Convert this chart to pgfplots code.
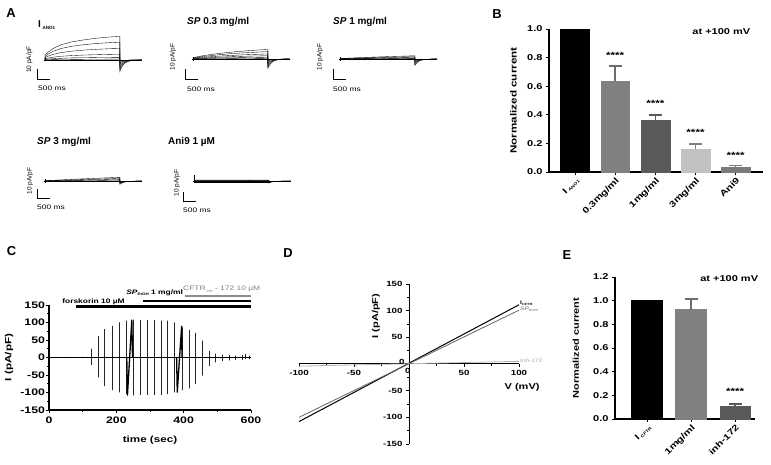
\documentclass[border=0pt]{standalone}
\usepackage{fontspec}
\setmainfont{Liberation Sans}
\newfontfamily\sw{Liberation Sans}[FakeStretch=1.3]
\usepackage{pgfplots}
\pgfplotsset{compat=1.18}
\definecolor{gA}{HTML}{808080}
\definecolor{gB}{HTML}{5A5A5A}
\definecolor{gC}{HTML}{C2C2C2}
\definecolor{gD}{HTML}{7A7A7A}
\newcommand{\fs}[1]{\fontsize{#1}{#1}\selectfont}
\pgfplotsset{
  /pgf/number format/assume math mode=true,
  trace/.style={hide axis, anchor=south west, x=0.026bp, y=1.15bp, xmin=-400, xmax=3800, ymin=-22, ymax=30, clip=false},
  tr/.style={black, line width=0.35bp},
  base/.style={black, line width=0.9bp},
  noarrow/.style={axis line style={-}, x axis line style={-}, y axis line style={-}},
  eb/.style={error bars/.cd, y dir=plus, y explicit, error bar style={draw=#1, line width=1.6bp}, error mark options={rotate=90, draw=#1, line width=1.6bp, mark size=6.5bp}},
}
\begin{document}
\begin{tikzpicture}[x=1bp,y=1bp]
\useasboundingbox (0,0) rectangle (771,465);

% ---------------- Panel letters
\node[font=\bfseries\fs{13}] at (11,452) {A};
\node[font=\bfseries\fs{13}] at (497,451) {B};
\node[font=\bfseries\fs{13}] at (11.5,214) {C};
\node[font=\bfseries\fs{13}] at (288,212) {D};
\node[font=\bfseries\fs{13}] at (567,210) {E};

% ---------------- Panel A traces
% T1 I_ANO1
\begin{axis}[trace, at={(34.6bp,379.7bp)}]
\addplot[base] coordinates {(-50,0)(3730,0)};
\addplot[tr] coordinates {(0,0)(0,4)(100,6.5)(300,9.8)(600,13.1)(1000,15.6)(1500,17.5)(2000,19.0)(2500,20.0)(2880,20.5)(2880,-10)(2930,-7.2)(2980,-5.1)(3080,-2.6)(3180,-1.4)(3330,-0.5)(3730,0)};
\addplot[tr] coordinates {(0,0)(0,3)(100,4.9)(300,7.4)(600,9.9)(1000,11.8)(1500,13.3)(2000,14.4)(2500,15.1)(2880,15.5)(2880,-8)(2930,-5.8)(2980,-4.1)(3080,-2.1)(3180,-1.1)(3330,-0.4)(3730,0)};
\addplot[tr] coordinates {(0,0)(0,2)(100,3.2)(300,4.8)(600,6.4)(1000,7.6)(1500,8.6)(2000,9.3)(2500,9.8)(2880,10)(2880,-6)(2930,-4.3)(2980,-3.1)(3080,-1.6)(3180,-0.8)(3330,-0.3)(3730,0)};
\addplot[tr] coordinates {(0,0)(0,1)(100,1.6)(300,2.4)(600,3.2)(1000,3.8)(1500,4.3)(2000,4.6)(2500,4.9)(2880,5)(2880,-4)(2930,-2.9)(2980,-2)(3080,-1)(3180,-0.5)(3330,-0.2)(3730,0)};
\addplot[tr] coordinates {(0,0)(0,0.5)(300,1.1)(1000,1.8)(2000,2.1)(2880,2.3)(2880,-2.5)(2930,-1.8)(2980,-1.3)(3080,-0.7)(3180,-0.3)(3330,-0.1)(3730,0)};
\addplot[tr] coordinates {(0,0.2)(1000,0.5)(2880,0.8)(2880,-1.2)(2980,-0.6)(3180,-0.2)(3730,0)};
\addplot[tr] coordinates {(0,-0.3)(2880,-0.3)(2880,-0.6)(3080,-0.2)(3730,0)};
\addplot[tr] coordinates {(0,-0.6)(2880,-0.6)(2880,-0.3)(3730,0)};
\addplot[tr] coordinates {(0,-1.2)(0,1.5)};
\end{axis}
% T2 SP 0.3
\begin{axis}[trace, at={(182.6bp,380.7bp)}]
\addplot[base] coordinates {(-50,0)(3730,0)};
\addplot[tr] coordinates {(0,0)(0,1)(100,1.6)(300,2.5)(600,3.6)(1000,4.8)(1500,6.0)(2000,7.0)(2500,7.8)(2880,8.3)(2880,-8)(2930,-5.8)(2980,-4.1)(3080,-2.1)(3180,-1.1)(3330,-0.4)(3730,0)};
\addplot[tr] coordinates {(0,0.8)(300,1.9)(1000,3.7)(1500,4.7)(2000,5.4)(2500,6.0)(2880,6.4)(2880,-6.5)(2930,-4.7)(2980,-3.3)(3080,-1.7)(3180,-0.9)(3330,-0.3)(3730,0)};
\addplot[tr] coordinates {(0,0.5)(300,1.3)(1000,2.5)(2000,3.7)(2880,4.4)(2880,-5)(2930,-3.6)(2980,-2.5)(3080,-1.3)(3180,-0.7)(3330,-0.2)(3730,0)};
\addplot[tr] coordinates {(0,0.3)(1000,1.6)(2000,2.4)(2880,2.8)(2880,-3.5)(2930,-2.5)(2980,-1.8)(3080,-0.9)(3180,-0.5)(3730,0)};
\addplot[tr] coordinates {(0,0.2)(1000,0.9)(2880,1.5)(2880,-2)(2980,-1)(3180,-0.3)(3730,0)};
\addplot[tr] coordinates {(0,0)(2880,0.6)(2880,-1)(3080,-0.3)(3730,0)};
\addplot[tr] coordinates {(0,-0.3)(2880,-0.3)(2880,-0.5)(3730,0)};
\addplot[tr] coordinates {(0,-1.5)(0,1.5)};
\end{axis}
% T3 SP 1
\begin{axis}[trace, at={(329.6bp,380.7bp)}]
\addplot[base] coordinates {(-50,0)(3730,0)};
\addplot[tr] coordinates {(0,0)(0,0.4)(1000,1.4)(2000,2.2)(2880,2.8)(2880,-5.5)(2930,-4)(2980,-2.8)(3080,-1.4)(3180,-0.8)(3330,-0.3)(3730,0)};
\addplot[tr] coordinates {(0,0.3)(1000,1.0)(2000,1.6)(2880,2.0)(2880,-4.2)(2930,-3)(2980,-2.1)(3080,-1.1)(3180,-0.6)(3730,0)};
\addplot[tr] coordinates {(0,0.2)(1000,0.7)(2880,1.3)(2880,-3)(2930,-2.2)(2980,-1.5)(3080,-0.8)(3180,-0.4)(3730,0)};
\addplot[tr] coordinates {(0,0.1)(2880,0.7)(2880,-2)(2980,-1)(3180,-0.3)(3730,0)};
\addplot[tr] coordinates {(0,0)(2880,0.3)(2880,-1.2)(3080,-0.4)(3730,0)};
\addplot[tr] coordinates {(0,-0.3)(2880,-0.2)(2880,-0.6)(3730,0)};
\addplot[tr] coordinates {(0,-1.5)(0,1.5)};
\end{axis}
% T4 SP 3
\begin{axis}[trace, at={(34.6bp,258.7bp)}]
\addplot[base] coordinates {(-50,0)(3730,0)};
\addplot[tr] coordinates {(0,0.3)(1000,1.4)(2000,2.4)(2880,3.2)(2880,-2.9)(2930,-2.1)(2980,-1.5)(3080,-0.8)(3180,-0.4)(3730,0)};
\addplot[tr] coordinates {(0,0.2)(1000,0.9)(2000,1.6)(2880,2.2)(2880,-2.2)(2980,-1.1)(3180,-0.3)(3730,0)};
\addplot[tr] coordinates {(0,0.1)(1500,0.8)(2880,1.4)(2880,-1.5)(3080,-0.5)(3730,0)};
\addplot[tr] coordinates {(0,0)(2880,0.7)(2880,-1)(3730,0)};
\addplot[tr] coordinates {(0,-0.3)(2880,-0.2)(2880,-0.5)(3730,0)};
\addplot[tr] coordinates {(0,-1.5)(0,1.5)};
\end{axis}
% T5 Ani9
\begin{axis}[trace, at={(183.6bp,258.7bp)}]
\addplot[base] coordinates {(-50,0)(3730,0)};
\addplot[tr] coordinates {(0,0.8)(2880,0.9)(2880,-1.8)(2980,-0.9)(3180,-0.2)(3730,0)};
\addplot[tr] coordinates {(0,0.5)(2880,0.6)(2880,-1.2)(3080,-0.3)(3730,0)};
\addplot[tr] coordinates {(0,0.2)(2880,0.3)(2880,-0.8)(3730,0)};
\addplot[tr] coordinates {(0,-0.2)(2880,-0.2)(2880,-0.4)(3730,0)};
\addplot[tr] coordinates {(0,-0.5)(2880,-0.5)(2880,0)(3730,0)};
\addplot[tr] coordinates {(0,-0.8)(2880,-0.8)(2880,0)};
\addplot[tr] coordinates {(0,-1)(0,5)};
\end{axis}

% titles and scale bars of panel A
\node[anchor=base west, inner sep=0, font=\bfseries\fs{10}] at (38,437) {I\,\raisebox{-0.3ex}{\fs{4.5}ANO1}};
\node[anchor=base west, inner sep=0, font=\bfseries\fs{10}] at (187,440) {\textit{SP} 0.3 mg/ml};
\node[anchor=base west, inner sep=0, font=\bfseries\fs{10}] at (333,440) {\textit{SP} 1 mg/ml};
\node[anchor=base west, inner sep=0, font=\bfseries\fs{10}] at (37,320) {\textit{SP} 3 mg/ml};
\node[anchor=base west, inner sep=0, font=\bfseries\fs{10}] at (168,320) {Ani9 1 µM};
\foreach \xx/\yy/\yb in {37/396/385, 185/396/385, 333/396/385, 37/276/266, 183/273/263}{
  \draw[line width=1bp] (\xx,\yy) -- (\xx,\yb) -- (\xx+13,\yb);
}
\foreach \xx/\yy in {38/376.5, 187/376, 333/376, 37/258, 183/255}{
  \node[anchor=west, inner sep=0, font=\sw\fs{6.5}] at (\xx,\yy) {500 ms};
}
\foreach \xx/\yy in {29.5/405.5, 173/408, 320/408, 30/284, 177/282}{
  \node[rotate=90, inner sep=0, font=\fs{6.5}] at (\xx,\yy) {10 pA/pF};
}

% ---------------- Panel B
\begin{axis}[at={(549bp,293bp)}, anchor=south west, scale only axis, width=214bp, height=143bp,
  xmin=-0.647, xmax=4.68, ymin=0, ymax=1.0,
  axis x line=bottom, axis y line=left, noarrow,
  axis line style={line width=1.1bp},
  tick align=outside, major tick length=3bp, tick style={black, line width=0.9bp},
  xtick={0,1,2,3,4},
  xticklabels={{I\,\raisebox{-0.3ex}{\fs{4}ANO1}},{0.3mg/ml},{1mg/ml},{3mg/ml},{Ani9}},
  x tick label style={rotate=45, anchor=north east, inner sep=1bp},
  ytick={0,0.2,0.4,0.6,0.8,1},
  y tick label style={/pgf/number format/fixed, /pgf/number format/fixed zerofill, /pgf/number format/precision=1},
  ticklabel style={font=\sw\bfseries\fs{8.5}},
  ybar, bar width=0.72, bar shift=0pt,
  ylabel={Normalized current},
  every axis y label/.style={at={(axis description cs:-0.166,0.5)}, rotate=90, anchor=center, font=\sw\bfseries\fs{9}},
  clip=false]
\addplot[fill=black, draw=black] coordinates {(0,1.0)};
\addplot[fill=gA, draw=gA, eb=gA!85!black] coordinates {(1,0.638) +- (0,0.103)};
\addplot[fill=gB, draw=gB, eb=gB] coordinates {(2,0.364) +- (0,0.036)};
\addplot[fill=gC, draw=gC, eb=gA] coordinates {(3,0.159) +- (0,0.037)};
\addplot[fill=gD, draw=gD, eb=gD] coordinates {(4,0.036) +- (0,0.008)};
\node[font=\sw\bfseries\fs{9}] at (axis cs:1,0.817) {****};
\node[font=\sw\bfseries\fs{9}] at (axis cs:2,0.477) {****};
\node[font=\sw\bfseries\fs{9}] at (axis cs:3,0.277) {****};
\node[font=\sw\bfseries\fs{9}] at (axis cs:4,0.113) {****};
\node[anchor=east, font=\sw\bfseries\fs{8.5}] at (axis cs:4.45,0.985) {at +100 mV};
\end{axis}

% ---------------- Panel C
\begin{axis}[at={(49bp,55bp)}, anchor=south west, scale only axis, width=202bp, height=105bp,
  xmin=0, xmax=600, ymin=-150, ymax=150,
  axis x line=bottom, axis y line=left, noarrow,
  axis line style={line width=1.1bp},
  tick align=outside, major tick length=3bp, minor tick length=2bp, tick style={black, line width=0.9bp},
  xtick={0,200,400,600}, ytick={-150,-100,-50,0,50,100,150},
  minor x tick num=1, minor y tick num=1,
  ticklabel style={font=\sw\bfseries\fs{9.5}},
  y tick label style={xshift=2.5bp},
  xlabel={time (sec)}, ylabel={I (pA/pF)},
  every axis x label/.style={at={(axis description cs:0.5,-0.286)}, anchor=center, font=\sw\bfseries\fs{9}},
  every axis y label/.style={at={(axis description cs:-0.198,0.5)}, rotate=90, anchor=center, font=\sw\bfseries\fs{9}},
  clip=false]
\addplot[black!85, line width=0.8bp] coordinates {
(0,0)
(40,0)(40,1)(40,-1)(40,0)
(60,0)(60,1.5)(60,-1)(60,0)
(80,0)(80,1)(80,-1)(80,0)
(100,0)(100,1.5)(100,-1.5)(100,0)
(113,0)(113,2)(113,-1)(113,0)
(127,0)(127,25)(127,-21)(127,0)
(146,0)(146,61)(146,-57)(146,0)
(166,0)(166,81)(166,-81)(166,0)
(188,0)(188,90)(188,-93)(188,0)
(208,0)(208,100)(208,-100)(208,0)
(229,0)(229,105)(229,-105)(229,0)
(250,0)(250,108)(250,-108)(250,0)
(272,0)(272,107)(272,-107)(272,0)
(293,0)(293,107)(293,-107)(293,0)
(313,0)(313,107)(313,-107)(313,0)
(333,0)(333,105)(333,-107)(333,0)
(352,0)(352,105)(352,-105)(352,0)
(371,0)(371,100)(371,-100)(371,0)
(396,0)(396,86)(396,-93)(396,0)
(416,0)(416,79)(416,-88)(416,0)
(436,0)(436,70)(436,-76)(436,0)
(455,0)(455,48)(455,-52)(455,0)
(475,0)(475,19)(475,-24)(475,0)
(495,0)(495,11)(495,-14)(495,0)
(515,0)(515,8)(515,-10)(515,0)
(535,0)(535,7)(535,-8)(535,0)
(554,0)(554,5)(554,-7)(554,0)
(574,0)(574,7)(574,-7)(574,0)
(584,0)(584,10)(584,-5)(584,0)
(594,0)(594,5)(594,-5)(594,0)
(600,0)};
\addplot[black, line width=1bp] coordinates {(0,0)(600,0)};
\addplot[black, line width=1.3bp] coordinates {(231,0)(233,-109)(246,108)(248,0)};
\addplot[black, line width=1.3bp] coordinates {(379,0)(381,-100)(394,90)(395,0)};
\draw[black, line width=2.6bp] (axis cs:80,145) -- (axis cs:600,145);
\draw[black, line width=1.8bp] (axis cs:280,160.5) -- (axis cs:600,160.5);
\draw[black!45, line width=1.6bp] (axis cs:404,176) -- (axis cs:600,176);
\node[anchor=base west, inner sep=0, font=\sw\bfseries\fs{6.5}] at (axis cs:39,153) {forskorin 10 µM};
\node[anchor=base west, inner sep=0, font=\sw\bfseries\fs{6.5}] at (axis cs:229,179) {\textit{SP}\raisebox{-0.3ex}{\fs{3.5}EtOH} 1 mg/ml};
\node[anchor=base west, inner sep=0, text=black!50, font=\sw\fs{6.5}] at (axis cs:398,190) {CFTR\,\raisebox{-0.3ex}{\fs{3.5}inh} - 172 10 µM};
\end{axis}

% ---------------- Panel D
\begin{axis}[at={(299bp,21bp)}, anchor=south west, scale only axis, width=220bp, height=160bp,
  xmin=-100, xmax=100, ymin=-150, ymax=150,
  axis lines=middle, noarrow,
  axis line style={line width=1bp},
  tick align=outside, major tick length=3bp, minor tick length=2bp, tick style={black, line width=0.8bp},
  xtick={-100,-50,0,50,100}, ytick={-150,-100,-50,0,50,100,150},
  minor x tick num=1, minor y tick num=1,
  ticklabel style={font=\sw\bfseries\fs{7.5}},
  xlabel={V (mV)}, ylabel={I (pA/pF)},
  every axis x label/.style={at={(axis description cs:1.014,0.356)}, anchor=center, font=\sw\bfseries\fs{8.5}},
  every axis y label/.style={at={(axis description cs:0.35,0.8)}, rotate=90, anchor=center, font=\sw\bfseries\fs{8.5}},
  clip=false]
\addplot[black, line width=1bp] coordinates {(-100,-108)(100,111)};
\addplot[black!60, line width=0.8bp] coordinates {(-100,-100)(100,101)};
\addplot[black!30, line width=0.8bp] coordinates {(-100,-4)(100,5)};
\node[anchor=north, inner sep=2bp, font=\sw\bfseries\fs{7.5}] at (axis cs:-1,-4) {0};
\node[anchor=east, inner sep=2bp, font=\sw\bfseries\fs{7.5}] at (axis cs:-2,3) {0};
\node[anchor=west, inner sep=1bp, font=\sw\bfseries\fs{5}] at (axis cs:100,114) {I\raisebox{-0.3ex}{\fs{3}CFTR}};
\node[anchor=west, inner sep=1bp, text=black!60, font=\sw\fs{5}] at (axis cs:100,102) {\textit{SP}\raisebox{-0.3ex}{\fs{3}EtOH}};
\node[anchor=west, inner sep=1bp, text=black!35, font=\sw\fs{5}] at (axis cs:100,7) {Inh-172};
\end{axis}

% ---------------- Panel E
\begin{axis}[at={(615bp,46bp)}, anchor=south west, scale only axis, width=140bp, height=142bp,
  xmin=-0.727, xmax=2.45, ymin=0, ymax=1.2,
  axis x line=bottom, axis y line=left, noarrow,
  axis line style={line width=1.1bp},
  tick align=outside, major tick length=3bp, tick style={black, line width=0.9bp},
  xtick={0,1,2},
  xticklabels={{I\,\raisebox{-0.3ex}{\fs{4}CFTR}},{1mg/ml},{inh-172}},
  x tick label style={rotate=45, anchor=north east, inner sep=1bp},
  ytick={0,0.2,0.4,0.6,0.8,1,1.2},
  y tick label style={/pgf/number format/fixed, /pgf/number format/fixed zerofill, /pgf/number format/precision=1},
  ticklabel style={font=\sw\bfseries\fs{8.5}},
  ybar, bar width=0.70, bar shift=0pt,
  ylabel={Normalized current},
  every axis y label/.style={at={(axis description cs:-0.279,0.5)}, rotate=90, anchor=center, font=\sw\bfseries\fs{8.5}},
  clip=false]
\addplot[fill=black, draw=black] coordinates {(0,1.005)};
\addplot[fill=gA, draw=gA, eb=gA!85!black] coordinates {(1,0.925) +- (0,0.09)};
\addplot[fill=gB, draw=gB, eb=gB] coordinates {(2,0.105) +- (0,0.022)};
\node[font=\sw\bfseries\fs{9}] at (axis cs:2,0.232) {****};
\node[anchor=east, font=\sw\bfseries\fs{8.5}] at (axis cs:2.6,1.19) {at +100 mV};
\end{axis}
\end{tikzpicture}
\end{document}
